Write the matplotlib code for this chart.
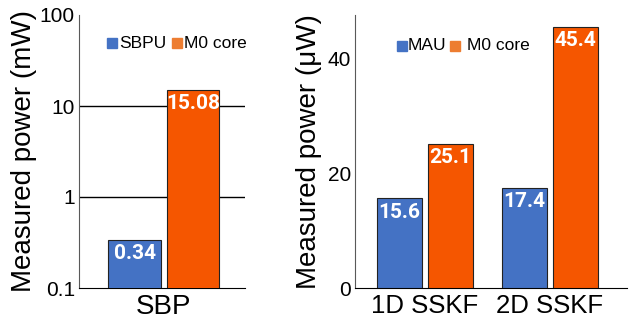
import matplotlib
matplotlib.use("Agg")
import matplotlib.pyplot as plt
from matplotlib.patches import Rectangle
import numpy as np

plt.rcParams['font.family'] = ['Liberation Sans', 'DejaVu Sans']

# left panel: SBP power, log scale (mW)
sbp_groups = ["SBP"]
sbpu_mw = [0.34]
m0_sbp_mw = [15.08]

# right panel: SSKF power, linear scale (uW)
sskf_groups = ["1D SSKF", "2D SSKF"]
mau_uw = [15.6, 17.4]
m0_sskf_uw = [25.1, 45.4]

BLUE = "#4472C4"
ORANGE = "#F55600"
LEG_ORANGE = "#ED7D31"
LABEL_FONT = ['Roboto', 'Liberation Sans', 'DejaVu Sans']

W, H = 629, 326
fig = plt.figure(figsize=(W / 100, H / 100), dpi=100)
ax1 = fig.add_axes([79 / W, 38 / H, 166 / W, 273 / H])
ax2 = fig.add_axes([355 / W, 38 / H, 272 / W, 273 / H])


def bar_labels(ax, bars, values, fmt):
    for b, v in zip(bars, values):
        ax.annotate(fmt.format(v), (b.get_x() + b.get_width() / 2, v),
                    xytext=(0, -3), textcoords="offset points",
                    ha="center", va="top", color="white",
                    fontsize=15, fontweight="bold", family=LABEL_FONT)


def legend_row(items, y):
    # items: (color, text, square left px, text left px)
    for color, text, sx, tx in items:
        fig.patches.append(Rectangle((sx / W, (H - y - 5) / H), 10 / W, 10 / H,
                                     transform=fig.transFigure, color=color,
                                     figure=fig))
        fig.text(tx / W, (H - y) / H, text, fontsize=12.5, va="center", ha="left")


# ---- left: SBP (log)
x1 = np.arange(len(sbp_groups))
w1 = 0.315
b1 = ax1.bar(x1 - w1 / 2 - 0.018, sbpu_mw, w1, color=BLUE, edgecolor="#222222",
             linewidth=0.8, zorder=3)
b2 = ax1.bar(x1 + w1 / 2 + 0.018, m0_sbp_mw, w1, color=ORANGE, edgecolor="#222222",
             linewidth=0.8, zorder=3)
ax1.set_yscale("log")
ax1.set_ylim(0.1, 100)
ax1.set_xlim(-0.51, 0.49)
ax1.set_yticks([0.1, 1, 10, 100])
ax1.set_yticklabels(["0.1", "1", "10", "100"])
ax1.minorticks_off()
for yv in [1, 10]:
    ax1.axhline(yv, color="black", linewidth=1, zorder=1)
ax1.set_xticks(x1)
ax1.set_xticklabels(sbp_groups)
ax1.set_ylabel("Measured power (mW)", fontsize=20, labelpad=2)
bar_labels(ax1, b1, sbpu_mw, "{:.2f}")
bar_labels(ax1, b2, m0_sbp_mw, "{:.2f}")

# ---- right: SSKF (linear)
x2 = np.arange(len(sskf_groups))
w2 = 0.36
b3 = ax2.bar(x2 - w2 / 2 - 0.025, mau_uw, w2, color=BLUE, edgecolor="#222222",
             linewidth=0.8, zorder=3)
b4 = ax2.bar(x2 + w2 / 2 + 0.025, m0_sskf_uw, w2, color=ORANGE, edgecolor="#222222",
             linewidth=0.8, zorder=3)
ax2.set_ylim(0, 47.5)
ax2.set_xlim(-0.56, 1.62)
ax2.set_yticks([0, 20, 40])
ax2.set_xticks(x2)
ax2.set_xticklabels(sskf_groups)
ax2.set_ylabel("Measured power (\u03bcW)", fontsize=20, labelpad=4)
bar_labels(ax2, b3, mau_uw, "{:.1f}")
bar_labels(ax2, b4, m0_sskf_uw, "{:.1f}")

for ax in (ax1, ax2):
    ax.spines["top"].set_visible(False)
    ax.spines["right"].set_visible(False)
    ax.spines["left"].set_color("#595959")
    ax.spines["bottom"].set_color("black")
    ax.tick_params(axis="both", length=0, labelsize=15, pad=3)
ax1.tick_params(axis="x", labelsize=20, pad=4)
ax2.tick_params(axis="x", labelsize=18.5, pad=4)

legend_row([(BLUE, "SBPU", 107, 119), (LEG_ORANGE, "M0 core", 172, 184)], 43)
legend_row([(BLUE, "MAU", 397, 408), (LEG_ORANGE, "M0 core", 450, 467)], 46)

fig.savefig("out.png", dpi=100)
